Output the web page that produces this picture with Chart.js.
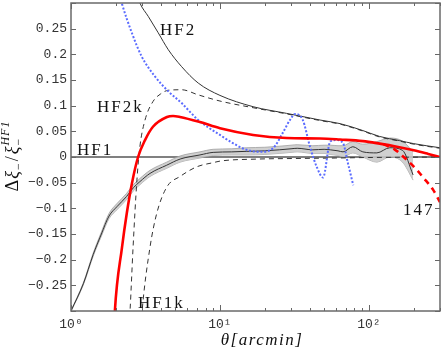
<!DOCTYPE html>
<html><head><meta charset="utf-8">
<script src="https://cdn.jsdelivr.net/npm/chart.js@4.4.0/dist/chart.umd.min.js"></script>
<style>html,body{margin:0;padding:0;background:#fff}#wrap{width:443px;height:353px}</style>
</head><body><div id="wrap"><canvas id="c" width="443" height="353"></canvas></div>
<script>
// ---- data (theta in arcmin, values = Δξ-/ξ-^HF1) ----
const hf2Theta = [2.75, 2.9, 3.3, 3.85, 4.5, 5.53, 7.15, 10, 16.7, 28, 47, 64, 90, 118, 160, 200, 300];
const hf2Vals  = [0.32, 0.30, 0.274, 0.242, 0.209, 0.176, 0.144, 0.12, 0.098, 0.085, 0.072, 0.065, 0.052, 0.04, 0.032, 0.026, 0.018];

const hf2kTheta = [2.45, 2.49, 2.61, 2.77, 2.9, 3.14, 3.55, 4.0, 4.5, 5.53, 7.15, 10, 16.7, 28, 47, 64, 90, 118, 160, 200, 300];
const hf2kVals  = [-0.33, -0.3, -0.176, -0.045, 0.02, 0.072, 0.108, 0.123, 0.13, 0.131, 0.121, 0.109, 0.096, 0.084, 0.071, 0.064, 0.051, 0.039, 0.031, 0.025, 0.017];

const hf1kTheta = [2.95, 3.0, 3.39, 3.77, 4.41, 5.39, 7.0, 9, 10, 18, 30, 60, 100, 300];
const hf1kVals  = [-0.33, -0.3, -0.176, -0.109, -0.058, -0.038, -0.019, -0.011, -0.008, -0.004, -0.003, -0.002, -0.001, 0.0];

const hf1Theta = [1, 300];
const hf1Vals  = [0, 0];

const redTheta = [1.95, 1.97, 2.2, 2.37, 2.57, 2.82, 3.14, 3.55, 4.41, 4.84, 5.39, 7.34, 10, 16.7, 28, 47, 64, 91, 118, 154, 200, 250, 300];
const redVals  = [-0.33, -0.3, -0.176, -0.109, -0.05, 0.0, 0.033, 0.059, 0.078, 0.080, 0.078, 0.068, 0.056, 0.043, 0.037, 0.036, 0.034, 0.031, 0.026, 0.02, 0.013, 0.006, 0.0];

const red147Theta = [125, 150, 180, 210, 230, 270, 300];
const red147Vals  = [0.025, 0.014, -0.006, -0.025, -0.039, -0.064, -0.088];

const blueTheta = [2.1, 2.19, 2.56, 2.98, 3.66, 4.5, 5.53, 7.15, 10, 12.2, 15.1, 18.6, 22.7, 26.4, 29.5, 32, 36, 40.2, 44.6, 49.2, 55, 60, 67, 72, 78.5];
const blueVals  = [0.32, 0.30, 0.242, 0.196, 0.157, 0.128, 0.105, 0.072, 0.043, 0.027, 0.014, 0.010, 0.017, 0.047, 0.072, 0.084, 0.072, 0.02, -0.019, -0.04, 0.03, 0.033, 0.027, -0.01, -0.055];

const meanTheta = [1.0, 1.21, 1.41, 1.6, 1.8, 2.03, 2.36, 2.62, 2.9, 3.39, 4.39, 5.4, 7.34, 9, 12, 15, 20, 25, 30, 33, 42, 50, 55, 62, 67, 78, 91, 113, 138, 168, 198];
const meanVals  = [-0.3, -0.247, -0.19, -0.15, -0.115, -0.097, -0.077, -0.06, -0.048, -0.032, -0.016, -0.004, 0.004, 0.009, 0.01, 0.011, 0.012, 0.014, 0.016, 0.017, 0.014, 0.015, 0.014, 0.012, 0.01, 0.02, 0.01, 0.008, 0.018, 0.013, -0.035];
const bandUpper = [-0.299, -0.245, -0.187, -0.146, -0.11, -0.091, -0.071, -0.054, -0.042, -0.026, -0.01, 0.002, 0.01, 0.015, 0.016, 0.018, 0.019, 0.021, 0.023, 0.024, 0.022, 0.023, 0.023, 0.022, 0.022, 0.03, 0.025, 0.03, 0.037, 0.031, 0.01];
const bandLower = [-0.301, -0.249, -0.193, -0.154, -0.12, -0.103, -0.083, -0.066, -0.054, -0.038, -0.022, -0.01, -0.002, 0.003, 0.004, 0.004, 0.005, 0.007, 0.009, 0.01, 0.007, 0.007, 0.005, 0.003, 0.0, 0.008, 0.0, -0.01, 0.0, -0.01, -0.045];

// ---- ticks & labels ----
const xMajorTicks = [1, 10, 100];
const xTickLabels = ['10⁰', '10¹', '10²'];
const xMinorTicks = [2,3,4,5,6,7,8,9,20,30,40,50,60,70,80,90,200,300];
const yTickValues = [-0.3,-0.25,-0.2,-0.15,-0.1,-0.05,0,0.05,0.1,0.15,0.2,0.25,0.3];
const curveLabels = [
  {text:'HF2',  x:160, y:35},
  {text:'HF2k', x:97,  y:112},
  {text:'HF1',  x:77,  y:155},
  {text:'HF1k', x:138, y:308},
  {text:'147',  x:403, y:215}
];
const xTitle = 'θ[arcmin]';

function pts(t, v){ return t.map((tt,i)=>({x:tt, y:v[i]})); }
const base = {pointRadius:0, pointHoverRadius:0, fill:false, cubicInterpolationMode:'monotone', clip:0, borderCapStyle:'butt'};

const datasets = [
  Object.assign({}, base, {label:'red', data:pts(redTheta, redVals), borderColor:'#ff0000', borderWidth:2.6}),
  Object.assign({}, base, {label:'147', data:pts(red147Theta, red147Vals), borderColor:'#ff0000', borderWidth:2.6, borderDash:[6,5]}),
  Object.assign({}, base, {label:'blue', data:pts(blueTheta, blueVals), borderColor:'#5b6cff', borderWidth:2, borderDash:[2,1.8]}),
  Object.assign({}, base, {label:'HF2', data:pts(hf2Theta, hf2Vals), borderColor:'#333', borderWidth:1}),
  Object.assign({}, base, {label:'HF2k', data:pts(hf2kTheta, hf2kVals), borderColor:'#333', borderWidth:1, borderDash:[5,4]}),
  Object.assign({}, base, {label:'HF1k', data:pts(hf1kTheta, hf1kVals), borderColor:'#333', borderWidth:1, borderDash:[5,4]}),
  Object.assign({}, base, {label:'mean', data:pts(meanTheta, meanVals), borderColor:'#333', borderWidth:1}),
  Object.assign({}, base, {label:'bandU', data:pts(meanTheta, bandUpper), borderColor:'#a0a0a0', borderWidth:0.8, fill:'+1', backgroundColor:'rgba(200,200,200,0.85)'}),
  Object.assign({}, base, {label:'bandL', data:pts(meanTheta, bandLower), borderColor:'#a0a0a0', borderWidth:0.8}),
  Object.assign({}, base, {label:'HF1', data:pts(hf1Theta, hf1Vals), borderColor:'#808080', borderWidth:2, cubicInterpolationMode:'default', tension:0})
];

const decor = {
  id:'decor',
  afterDraw(chart){
    const {ctx, chartArea:a, scales:{x, y}} = chart;
    ctx.save();
    ctx.strokeStyle = '#666'; ctx.lineWidth = 1;
    ctx.beginPath();
    xMajorTicks.forEach(v=>{ const px = Math.round(x.getPixelForValue(v))+0.5;
      ctx.moveTo(px, a.bottom); ctx.lineTo(px, a.bottom-6); ctx.moveTo(px, a.top); ctx.lineTo(px, a.top+6); });
    xMinorTicks.forEach(v=>{ const px = Math.round(x.getPixelForValue(v))+0.5;
      ctx.moveTo(px, a.bottom); ctx.lineTo(px, a.bottom-3); ctx.moveTo(px, a.top); ctx.lineTo(px, a.top+3); });
    yTickValues.forEach(v=>{ const py = Math.round(y.getPixelForValue(v))+0.5;
      ctx.moveTo(a.left, py); ctx.lineTo(a.left+5, py); ctx.moveTo(a.right, py); ctx.lineTo(a.right-5, py); });
    ctx.stroke();
    ctx.lineWidth = 1.5; ctx.strokeStyle = '#6a6a6a';
    ctx.strokeRect(a.left, a.top, a.right-a.left, a.bottom-a.top);

    // curve labels
    ctx.fillStyle = '#111';
    ctx.font = '17px "Liberation Serif", serif';
    ctx.letterSpacing = '2px';
    ctx.textBaseline = 'alphabetic'; ctx.textAlign = 'left';
    curveLabels.forEach(l=>ctx.fillText(l.text, l.x, l.y));

    // x title
    ctx.font = 'italic 17px "Liberation Serif", serif';
    ctx.letterSpacing = '1.5px';
    ctx.textAlign = 'center';
    ctx.fillText(xTitle, 262, 345);
    ctx.letterSpacing = '0px';

    // y title: Δξ_−/ξ_−^{HF1}
    ctx.translate(18, 156);
    ctx.rotate(-Math.PI/2);
    const big = '18px "Liberation Serif", serif', bigI = 'italic 18px "Liberation Serif", serif';
    const small = '12px "Liberation Serif", serif', smallI = 'italic 12px "Liberation Serif", serif';
    const parts = [
      {t:'Δ', f:big, dy:0, gap:1},
      {t:'ξ', f:bigI, dy:0, gap:1},
      {t:'−', f:small, dy:4, gap:2},
      {t:'/', f:big, dy:0, gap:2},
      {t:'ξ', f:bigI, dy:0, gap:1}
    ];
    let w = 0;
    parts.forEach(p=>{ ctx.font = p.f; p.w = ctx.measureText(p.t).width; w += p.w + p.gap; });
    ctx.font = smallI; ctx.letterSpacing = '1px';
    const supW = ctx.measureText('HF1').width;
    ctx.letterSpacing = '0px';
    w += supW;
    let cx = -w/2;
    ctx.textAlign = 'left';
    parts.forEach(p=>{ ctx.font = p.f; ctx.fillText(p.t, cx, p.dy); cx += p.w + p.gap; });
    ctx.font = small; ctx.fillText('−', cx, 4);
    ctx.font = smallI; ctx.letterSpacing = '1px'; ctx.fillText('HF1', cx, -9);
    ctx.letterSpacing = '0px';
    ctx.restore();
  }
};

new Chart(document.getElementById('c'), {
  type:'line',
  data:{datasets},
  options:{
    responsive:false, animation:false, devicePixelRatio:1,
    layout:{padding:{top:3, right:3, left:0, bottom:0}},
    plugins:{legend:{display:false}, tooltip:{enabled:false}},
    scales:{
      x:{type:'logarithmic', min:1, max:300,
        grid:{display:false, drawTicks:false}, border:{display:false},
        ticks:{autoSkip:false, maxRotation:0, padding:6, color:'#333',
          font:{family:'"Liberation Mono", "DejaVu Sans Mono", monospace', size:13},
          callback:(v)=>{ const i = xMajorTicks.indexOf(Number(v)); return i>=0 ? xTickLabels[i] : ''; }},
        afterFit:(s)=>{ s.height = 42; s.paddingLeft = 0; s.paddingRight = 0; }},
      y:{type:'linear', min:-0.3, max:0.3,
        grid:{display:false, drawTicks:false}, border:{display:false},
        ticks:{stepSize:0.05, autoSkip:false, padding:4, color:'#333',
          font:{family:'"Liberation Mono", "DejaVu Sans Mono", monospace', size:13},
          callback:(v)=>{ if (Math.abs(v) > 0.29) return ''; const r = Math.round(v*100)/100; return r<0 ? '−'+String(-r) : String(r); }},
        afterFit:(s)=>{ s.width = 71; s.paddingTop = 0; s.paddingBottom = 0; }}
    }
  },
  plugins:[decor]
});
</script></body></html>
